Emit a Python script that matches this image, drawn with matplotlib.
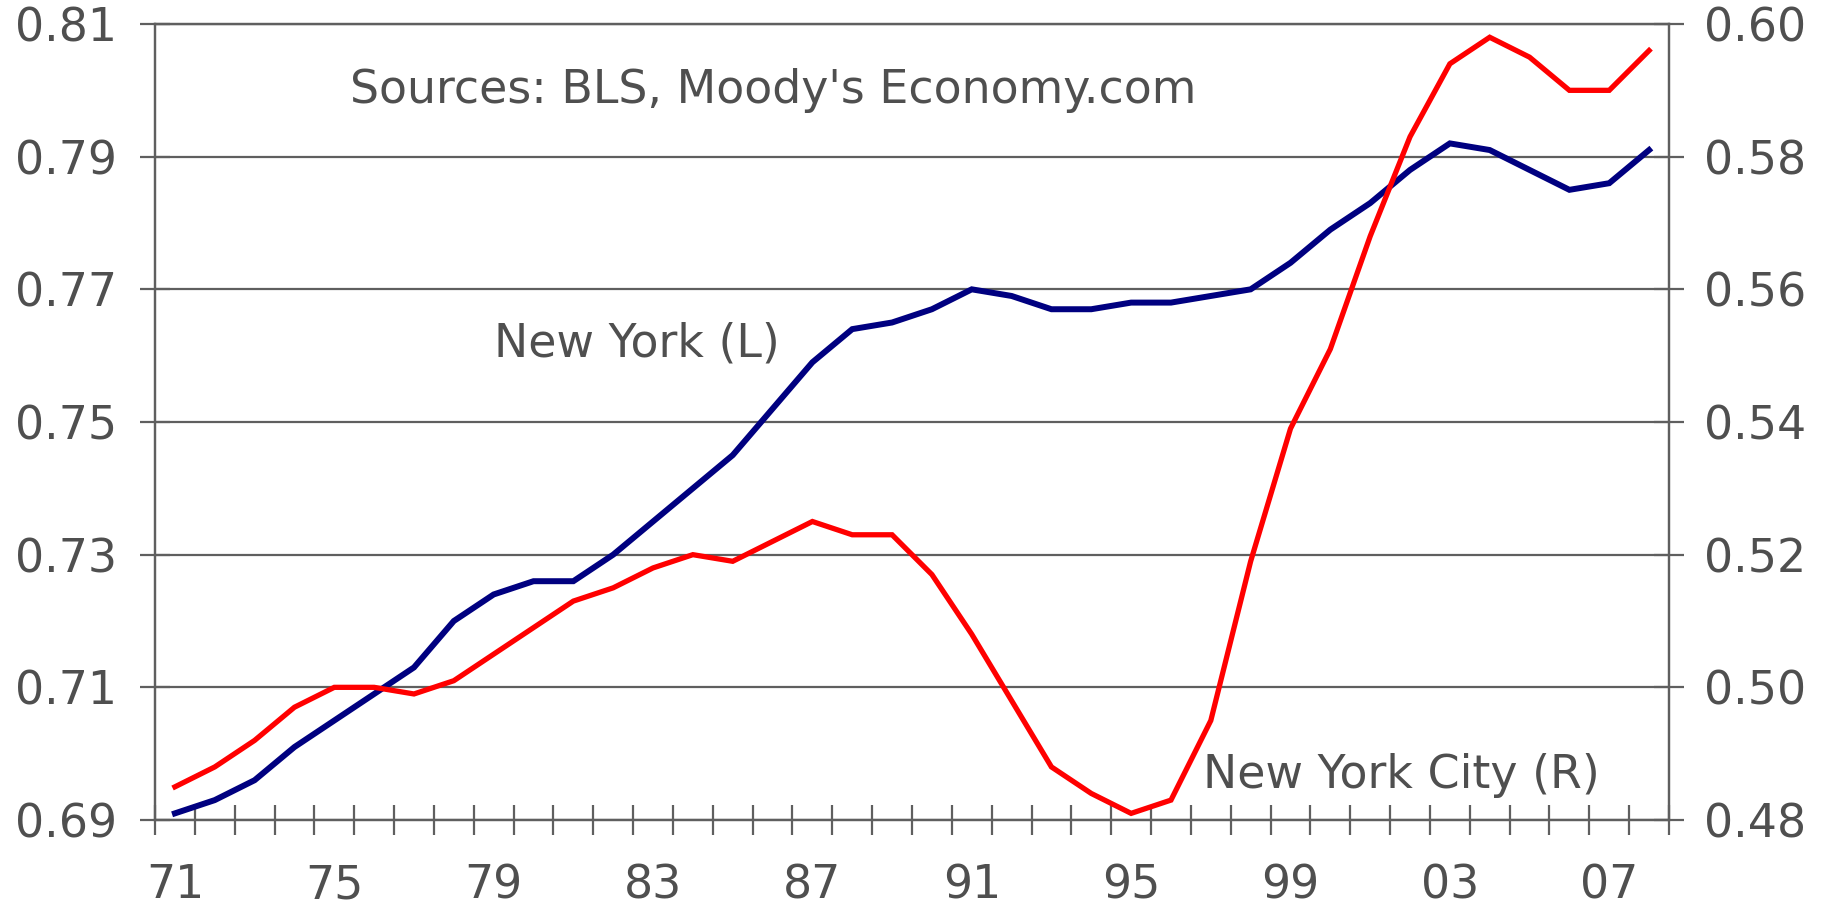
import matplotlib
matplotlib.use("Agg")
import matplotlib.pyplot as plt
from matplotlib.ticker import FixedLocator, NullFormatter

years = list(range(1971, 2009))
new_york = [0.691, 0.693, 0.696, 0.701, 0.705, 0.709, 0.713, 0.720, 0.724, 0.726,
            0.726, 0.730, 0.735, 0.740, 0.745, 0.752, 0.759, 0.764, 0.765, 0.767,
            0.770, 0.769, 0.767, 0.767, 0.768, 0.768, 0.769, 0.770, 0.774, 0.779,
            0.783, 0.788, 0.792, 0.791, 0.788, 0.785, 0.786, 0.791]
new_york_city = [0.485, 0.488, 0.492, 0.497, 0.500, 0.500, 0.499, 0.501, 0.505, 0.509,
                 0.513, 0.515, 0.518, 0.520, 0.519, 0.522, 0.525, 0.523, 0.523, 0.517,
                 0.508, 0.498, 0.488, 0.484, 0.481, 0.483, 0.495, 0.519, 0.539, 0.551,
                 0.568, 0.583, 0.594, 0.598, 0.595, 0.590, 0.590, 0.596]
left_ticks = [0.69, 0.71, 0.73, 0.75, 0.77, 0.79, 0.81]
right_ticks = [0.48, 0.50, 0.52, 0.54, 0.56, 0.58, 0.60]
x_label_years = [1971, 1975, 1979, 1983, 1987, 1991, 1995, 1999, 2003, 2007]
x_labels = ["71", "75", "79", "83", "87", "91", "95", "99", "03", "07"]

GRAY = "#5f5f5f"
TXT = "#4f4f4f"
FS = 33

fig = plt.figure(figsize=(18.28, 9.09), dpi=100)
W, H = 1828, 909
ax = fig.add_axes([155 / W, (H - 820) / H, (1669 - 155) / W, (820 - 24) / H])
ax2 = ax.twinx()

ax.set_xlim(years[0] - 0.5, years[-1] + 0.5)
ax.set_ylim(left_ticks[0], left_ticks[-1])
ax2.set_ylim(right_ticks[0], right_ticks[-1])

ax.plot(years, new_york, color="#000080", lw=4.3, solid_joinstyle="miter", zorder=3)
ax2.plot(years, new_york_city, color="#ff0000", lw=3.8, solid_joinstyle="miter", zorder=3)

ax.set_yticks(left_ticks)
ax.set_yticklabels([f"{v:.2f}" for v in left_ticks])
ax2.set_yticks(right_ticks)
ax2.set_yticklabels([f"{v:.2f}" for v in right_ticks])
ax.yaxis.grid(True, color=GRAY, lw=1.6)
ax.set_axisbelow(True)

for a in (ax, ax2):
    for s in a.spines.values():
        s.set_color(GRAY)
        s.set_linewidth(1.6)

ax.tick_params(axis="y", direction="inout", length=21, width=1.6, color=GRAY,
               labelsize=FS, labelcolor=TXT, pad=17)
ax2.tick_params(axis="y", direction="inout", length=21, width=1.6, color=GRAY,
                labelsize=FS, labelcolor=TXT, pad=15)

ax.set_xticks(x_label_years)
ax.set_xticklabels(x_labels)
ax.tick_params(axis="x", which="major", length=0, labelsize=FS, labelcolor=TXT, pad=31)
ax.xaxis.set_minor_locator(FixedLocator([y - 0.5 for y in years] + [years[-1] + 0.5]))
ax.xaxis.set_minor_formatter(NullFormatter())
ax.tick_params(axis="x", which="minor", direction="inout", length=22, width=1.6, color=GRAY)

ax.text(1975.4, 0.7981, "Sources: BLS, Moody's Economy.com", fontsize=FS, color=TXT,
        ha="left", va="baseline")
ax.text(1979.0, 0.7598, "New York (L)", fontsize=FS, color=TXT, ha="left", va="baseline")
ax.text(1996.8, 0.6948, "New York City (R)", fontsize=FS, color=TXT, ha="left", va="baseline")

fig.savefig("out.png", dpi=100)
